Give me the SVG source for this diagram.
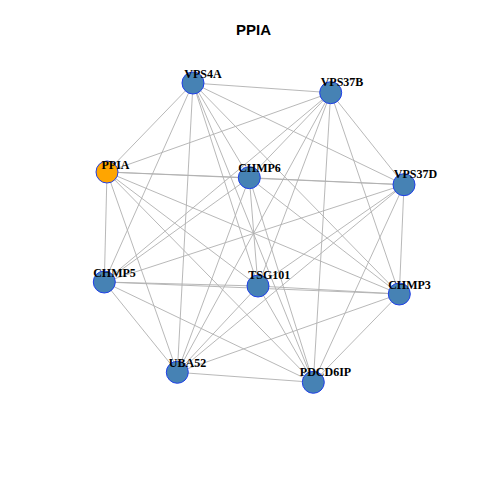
<svg xmlns="http://www.w3.org/2000/svg" width="480" height="480" viewBox="0 0 480 480">
<style>
.e{stroke:#b0b0b0;stroke-width:0.9;fill:none}
.n{fill:#4682B4;stroke:#1f3fe8;stroke-width:1}
.seed{fill:#FFA500}
.l{font-family:"Liberation Serif","Times New Roman",serif;font-weight:bold;font-size:12px;fill:#000;text-anchor:middle}
.t{font-family:"Liberation Sans",Arial,sans-serif;font-weight:bold;font-size:15px;fill:#000;text-anchor:middle}
</style>
<rect width="480" height="480" fill="#fff"/>
<text class="t" x="253.5" y="35">PPIA</text>
<g id="edges">
<line class="e" x1="193" y1="83" x2="330.7" y2="92.7"/>
<line class="e" x1="193" y1="83" x2="107" y2="172"/>
<line class="e" x1="193" y1="83" x2="249.3" y2="177.7"/>
<line class="e" x1="193" y1="83" x2="404" y2="184.7"/>
<line class="e" x1="193" y1="83" x2="104.3" y2="282"/>
<line class="e" x1="193" y1="83" x2="258" y2="286"/>
<line class="e" x1="193" y1="83" x2="399.3" y2="294"/>
<line class="e" x1="193" y1="83" x2="177.3" y2="372.3"/>
<line class="e" x1="193" y1="83" x2="313.3" y2="382.3"/>
<line class="e" x1="330.7" y1="92.7" x2="107" y2="172"/>
<line class="e" x1="330.7" y1="92.7" x2="249.3" y2="177.7"/>
<line class="e" x1="330.7" y1="92.7" x2="404" y2="184.7"/>
<line class="e" x1="330.7" y1="92.7" x2="104.3" y2="282"/>
<line class="e" x1="330.7" y1="92.7" x2="258" y2="286"/>
<line class="e" x1="330.7" y1="92.7" x2="399.3" y2="294"/>
<line class="e" x1="330.7" y1="92.7" x2="177.3" y2="372.3"/>
<line class="e" x1="330.7" y1="92.7" x2="313.3" y2="382.3"/>
<line class="e" x1="107" y1="172" x2="249.3" y2="177.7"/>
<line class="e" x1="107" y1="172" x2="404" y2="184.7"/>
<line class="e" x1="107" y1="172" x2="104.3" y2="282"/>
<line class="e" x1="107" y1="172" x2="258" y2="286"/>
<line class="e" x1="107" y1="172" x2="399.3" y2="294"/>
<line class="e" x1="107" y1="172" x2="177.3" y2="372.3"/>
<line class="e" x1="107" y1="172" x2="313.3" y2="382.3"/>
<line class="e" x1="249.3" y1="177.7" x2="404" y2="184.7"/>
<line class="e" x1="249.3" y1="177.7" x2="104.3" y2="282"/>
<line class="e" x1="249.3" y1="177.7" x2="258" y2="286"/>
<line class="e" x1="249.3" y1="177.7" x2="399.3" y2="294"/>
<line class="e" x1="249.3" y1="177.7" x2="177.3" y2="372.3"/>
<line class="e" x1="249.3" y1="177.7" x2="313.3" y2="382.3"/>
<line class="e" x1="404" y1="184.7" x2="104.3" y2="282"/>
<line class="e" x1="404" y1="184.7" x2="258" y2="286"/>
<line class="e" x1="404" y1="184.7" x2="399.3" y2="294"/>
<line class="e" x1="404" y1="184.7" x2="177.3" y2="372.3"/>
<line class="e" x1="404" y1="184.7" x2="313.3" y2="382.3"/>
<line class="e" x1="104.3" y1="282" x2="258" y2="286"/>
<line class="e" x1="104.3" y1="282" x2="399.3" y2="294"/>
<line class="e" x1="104.3" y1="282" x2="177.3" y2="372.3"/>
<line class="e" x1="104.3" y1="282" x2="313.3" y2="382.3"/>
<line class="e" x1="258" y1="286" x2="399.3" y2="294"/>
<line class="e" x1="258" y1="286" x2="177.3" y2="372.3"/>
<line class="e" x1="258" y1="286" x2="313.3" y2="382.3"/>
<line class="e" x1="399.3" y1="294" x2="177.3" y2="372.3"/>
<line class="e" x1="399.3" y1="294" x2="313.3" y2="382.3"/>
<line class="e" x1="177.3" y1="372.3" x2="313.3" y2="382.3"/>
</g>
<g id="VPS4A"><circle class="n" cx="193" cy="83" r="11"/><text class="l" x="203" y="77.5">VPS4A</text></g>
<g id="VPS37B"><circle class="n" cx="330.7" cy="92.7" r="11"/><text class="l" x="342" y="85.5">VPS37B</text></g>
<g id="PPIA"><circle class="n seed" cx="107" cy="172" r="11"/><text class="l" x="115.5" y="168.5">PPIA</text></g>
<g id="CHMP6"><circle class="n" cx="249.3" cy="177.7" r="11"/><text class="l" x="259.5" y="172">CHMP6</text></g>
<g id="VPS37D"><circle class="n" cx="404" cy="184.7" r="11"/><text class="l" x="415.5" y="177.5">VPS37D</text></g>
<g id="CHMP5"><circle class="n" cx="104.3" cy="282" r="11"/><text class="l" x="114.5" y="276.5">CHMP5</text></g>
<g id="TSG101"><circle class="n" cx="258" cy="286" r="11"/><text class="l" x="269.3" y="279">TSG101</text></g>
<g id="CHMP3"><circle class="n" cx="399.3" cy="294" r="11"/><text class="l" x="409.5" y="288.5">CHMP3</text></g>
<g id="UBA52"><circle class="n" cx="177.3" cy="372.3" r="11"/><text class="l" x="187.5" y="366.5">UBA52</text></g>
<g id="PDCD6IP"><circle class="n" cx="313.3" cy="382.3" r="11"/><text class="l" x="325.5" y="375.5">PDCD6IP</text></g>
</svg>
